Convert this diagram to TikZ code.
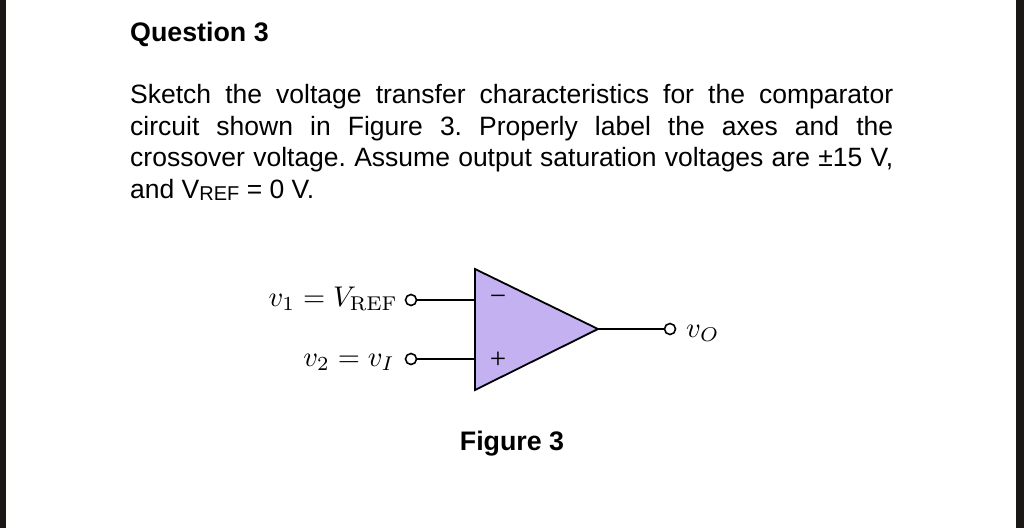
\documentclass[tikz,border=0pt]{standalone}
\usepackage[no-math]{fontspec}
\setmainfont{Liberation Sans}
\newfontfamily\symfont{Liberation Serif}
\usetikzlibrary{calc}
\definecolor{ampfill}{HTML}{C4B1F2}
\definecolor{barcol}{HTML}{1A1716}
\newcommand{\symtext}[1]{\scalebox{2.85}{$#1$}}
\tikzset{
	wire/.style={line width=1.8pt, black},
	terminal/.style={circle, draw, line width=1.6pt, fill=white, inner sep=0pt, minimum size=11pt},
	symlabel/.style={inner sep=0pt},
	sign/.style={inner sep=0pt, font=\symfont\fontsize{29}{29}\selectfont}
}
\begin{document}
\begin{tikzpicture}[x=1pt,y=-1pt]
	\useasboundingbox (0,0) rectangle (1024,528);
	\fill[barcol] (0,0) rectangle (6,528);
	\fill[barcol] (1016,0) rectangle (1024,528);

	\node[anchor=base west, inner sep=0pt, font=\bfseries\fontsize{26.8}{26.8}\selectfont] (title) at (130,41) {Question 3};
	\node[anchor=north west, inner sep=0pt, text width=763pt, align=justify, font=\fontsize{26.5}{31.6}\selectfont] (body) at (130,84) {\frenchspacing Sketch the voltage transfer characteristics for the comparator\linebreak circuit shown in Figure 3. Properly label the axes and the\linebreak crossover voltage. Assume output saturation voltages are ±15 V,\linebreak and V\raisebox{-2pt}{\fontsize{20}{20}\selectfont REF} = 0 V.};

	\coordinate (top) at (475,269);
	\coordinate (bot) at (475,390);
	\coordinate (tip) at (598,329);
	\coordinate (inm) at (475,300);
	\coordinate (inp) at (475,359);
	\draw[wire, fill=ampfill, line join=miter] (top) -- (tip) -- (bot) -- cycle;

	\node[terminal] (t1) at (411,300) {};
	\node[terminal] (t2) at (411,359) {};
	\node[terminal] (t3) at (670,329) {};
	\draw[wire] (t1) -- (inm);
	\draw[wire] (t2) -- (inp);
	\draw[wire] (tip) -- (t3);

	\node[sign] (minus) at (498,300) {−};
	\node[sign] (plus) at (498,360) {+};

	\node[symlabel, anchor=base east] (l1) at (398,306) {\symtext{v_1 = V_{\mathrm{REF}}}};
	\node[symlabel, anchor=base east] (l2) at (395,366) {\symtext{v_2 = v_I}};
	\node[symlabel, anchor=base west] (l3) at (686,337) {\symtext{v_O}};

	\node[anchor=base, inner sep=0pt, font=\bfseries\fontsize{26.8}{26.8}\selectfont] (fig) at (512,450) {Figure 3};
\end{tikzpicture}
\end{document}
